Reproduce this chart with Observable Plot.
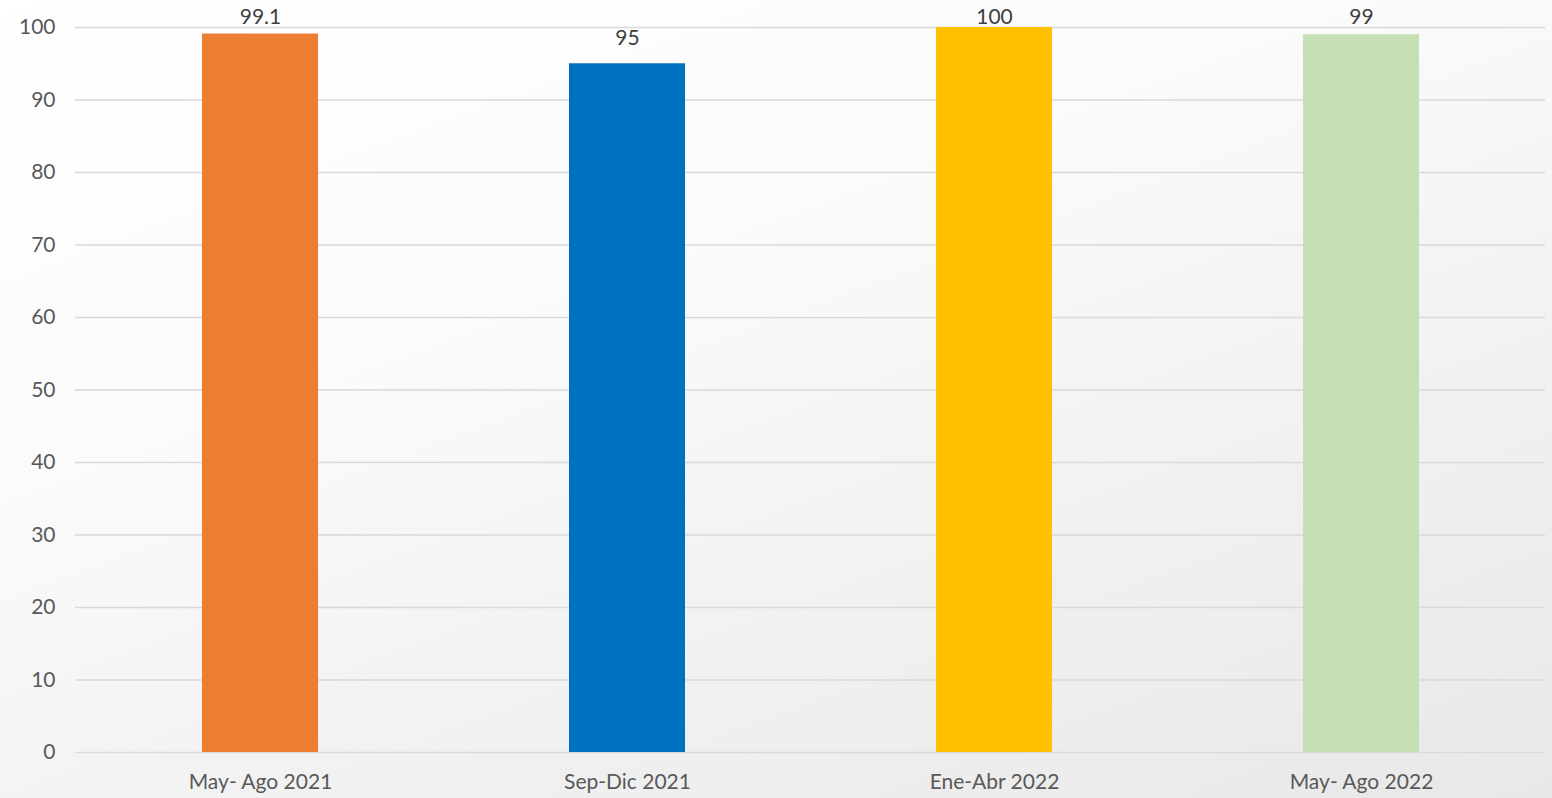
<!DOCTYPE html>
<html>
<head>
<meta charset="utf-8">
<script src="https://cdn.jsdelivr.net/npm/d3@7"></script>
<script src="https://cdn.jsdelivr.net/npm/@observablehq/plot@0.6"></script>
<style>
  html, body { margin: 0; padding: 0; }
  body {
    width: 1552px; height: 798px; overflow: hidden;
    background: linear-gradient(160deg, #ffffff 0%, #fbfbfb 35%, #f0f0f0 70%, #e8e8e8 100%);
    font-family: Lato, "Open Sans", sans-serif;
  }
  #chart svg { display: block; background: transparent; overflow: visible; }
</style>
</head>
<body>
<div id="chart"></div>
<script>
const categories = ["May- Ago 2021", "Sep-Dic 2021", "Ene-Abr 2022", "May- Ago 2022"];
const values = [99.1, 95, 100, 99];
const colors = ["#ED7D31", "#0070C0", "#FFC000", "#C5E0B4"];
const labels = ["99.1", "95", "100", "99"];
const yTicks = [0, 10, 20, 30, 40, 50, 60, 70, 80, 90, 100];

const data = categories.map((c, i) => ({cat: c, value: values[i], color: colors[i], label: labels[i]}));

const plot = Plot.plot({
  width: 1552,
  height: 798,
  marginLeft: 75,
  marginRight: 7,
  marginTop: 27,
  marginBottom: 46,
  style: {background: "transparent", fontFamily: "Lato, 'Open Sans', sans-serif", fontSize: "21px", color: "#595959"},
  x: {domain: categories, paddingInner: 0.684, paddingOuter: 0.342, label: null},
  y: {domain: [0, 100], ticks: yTicks, label: null},
  marks: [
    Plot.ruleY(yTicks, {stroke: "#d9d9d9", strokeWidth: 1.5}),
    Plot.barY(data, {x: "cat", y: "value", fill: "color"}),
    Plot.text(data, {x: "cat", y: d => Math.min(d.value + 3.45, 101.4), text: "label", fill: "#404040", fontSize: 21, clip: false}),
    Plot.axisX({tickSize: 0, tickPadding: 22, fontSize: 21, fill: "#595959"}),
    Plot.axisY({ticks: yTicks, tickSize: 0, tickPadding: 20, fontSize: 21, fill: "#595959"})
  ]
});
document.getElementById("chart").appendChild(plot);
</script>
</body>
</html>
